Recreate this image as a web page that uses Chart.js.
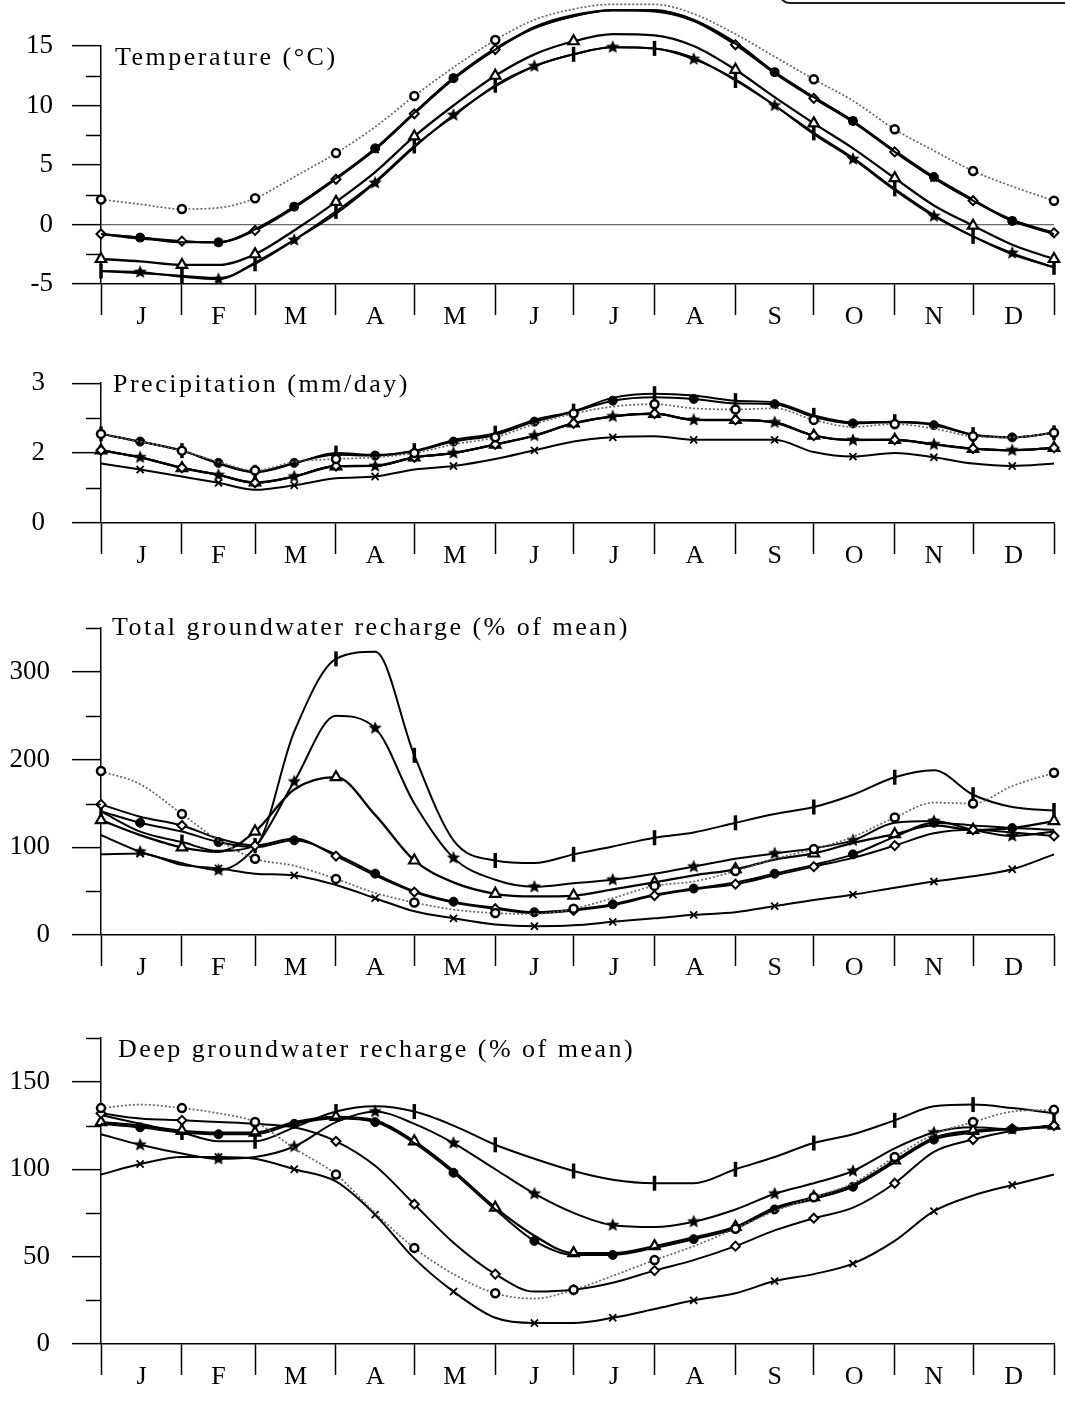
<!DOCTYPE html>
<html>
<head>
<meta charset="utf-8">
<script src="https://cdn.jsdelivr.net/npm/chart.js@4.4.0/dist/chart.umd.min.js"></script>
<style>
  body { margin: 0; background: #fff; width: 1065px; height: 1402px; position: relative; overflow: hidden; }
  .panel { position: absolute; left: 0; width: 1065px; }
  .legend-edge { position: absolute; left: 778px; top: -40px; width: 300px; height: 40px; border: 2px solid #222; border-radius: 12px; }
</style>
</head>
<body>
<div class="legend-edge"></div>
<div class="panel" style="top:0;height:340px"><canvas id="temp"></canvas></div>
<div class="panel" style="top:340px;height:239px"><canvas id="precip"></canvas></div>
<div class="panel" style="top:590px;height:401px"><canvas id="total"></canvas></div>
<div class="panel" style="top:1000px;height:400px"><canvas id="deep"></canvas></div>
<script>
// x positions: day of year, about every half month
const days = [0,15,31,45,59,74,90,105,120,135,151,166,181,196,212,227,243,258,273,288,304,319,334,349,365];
const monthStarts = [0,31,59,90,120,151,181,212,243,273,304,334,365];
const monthLabels = ['J','F','M','A','M','J','J','A','S','O','N','D'];

// Temperature (°C)
const tempCircle   = [2.1,1.7,1.3,1.4,2.2,4.0,6.0,8.2,10.8,13.2,15.5,17.2,18.1,18.5,18.5,17.7,16.0,14.1,12.2,10.4,8.0,6.2,4.5,3.2,2.0];
const tempCross    = [-0.8,-1.1,-1.5,-1.5,-0.4,1.5,3.9,6.3,9.4,12.3,14.7,16.5,17.5,18.0,18.0,17.2,15.2,12.8,10.7,8.7,6.1,3.9,2.0,0.3,-0.8];
const tempDiamond  = [-0.8,-1.2,-1.4,-1.5,-0.5,1.4,3.8,6.3,9.3,12.2,14.7,16.6,17.6,18.0,17.9,17.1,15.1,12.7,10.6,8.6,6.1,3.9,2.0,0.4,-0.7];
const tempDot      = [-0.8,-1.1,-1.4,-1.5,-0.4,1.5,3.9,6.4,9.4,12.3,14.8,16.5,17.5,18.0,18.0,17.2,15.3,12.8,10.7,8.7,6.2,4.0,2.1,0.3,-0.7];
const tempTriangle = [-2.9,-3.1,-3.4,-3.4,-2.5,-0.5,1.9,4.4,7.4,10.0,12.5,14.3,15.4,16.0,15.9,15.0,13.0,10.7,8.5,6.4,3.9,1.6,-0.1,-1.7,-2.9];
const tempStar     = [-3.9,-4.0,-4.4,-4.6,-3.2,-1.3,0.9,3.5,6.5,9.2,11.6,13.3,14.3,14.9,14.8,13.9,12.2,10.0,7.6,5.5,2.9,0.7,-1.0,-2.4,-3.6];
const tempBar      = [-3.9,-4.1,-4.3,-4.5,-3.3,-1.3,1.1,3.6,6.6,9.1,11.7,13.3,14.3,14.9,14.8,14.0,12.1,10.0,7.7,5.6,3.0,0.8,-1.0,-2.5,-3.6];
const tempTicks = [-5,0,5,10,15];
const tempTickLabels = ['-5','0','5','10','15'];
const tempMinor = [-2.5,2.5,7.5,12.5];

// Precipitation (mm/day), in units of the evenly spaced axis ticks
const precipCircle   = [2.55,2.33,2.07,1.75,1.5,1.75,1.83,1.88,2.0,2.25,2.45,2.83,3.13,3.33,3.4,3.28,3.25,3.28,2.95,2.75,2.83,2.7,2.48,2.45,2.58];
const precipCross    = [1.7,1.53,1.33,1.15,0.95,1.08,1.28,1.33,1.53,1.63,1.83,2.08,2.33,2.45,2.48,2.38,2.38,2.38,2.03,1.9,2.0,1.88,1.7,1.63,1.7];
const precipDiamond  = [2.08,1.88,1.58,1.38,1.15,1.33,1.63,1.63,1.88,2.0,2.25,2.5,2.85,3.05,3.13,2.95,2.95,2.88,2.5,2.38,2.38,2.25,2.13,2.08,2.15];
const precipDot      = [2.55,2.33,2.07,1.72,1.47,1.72,1.95,1.93,2.05,2.33,2.52,2.9,3.18,3.5,3.6,3.55,3.42,3.4,3.03,2.85,2.88,2.8,2.52,2.45,2.58];
const precipTriangle = [2.08,1.88,1.57,1.38,1.16,1.33,1.62,1.64,1.88,2.0,2.24,2.5,2.85,3.05,3.12,2.96,2.95,2.87,2.5,2.38,2.38,2.25,2.12,2.08,2.15];
const precipStar     = [2.08,1.88,1.58,1.37,1.15,1.33,1.63,1.63,1.88,2.0,2.25,2.5,2.86,3.05,3.13,2.95,2.94,2.88,2.5,2.37,2.38,2.25,2.13,2.08,2.15];
const precipBar      = [2.55,2.33,2.07,1.7,1.45,1.7,2.0,1.95,2.07,2.37,2.57,2.95,3.2,3.58,3.7,3.65,3.5,3.45,3.08,2.88,2.9,2.83,2.53,2.45,2.58];
const precipTicks = [0,2,4];
const precipTickLabels = ['0','2','3'];
const precipMinor = [1,3];

// Total groundwater recharge (% of mean)
const totalCircle   = [187,172,138,108,87,79,64,48,37,29,25,24,30,42,56,61,73,87,98,112,134,151,150,170,185];
const totalCross    = [92,93,80,76,70,68,57,42,27,19,12,10,11,15,19,23,26,33,40,46,54,61,67,75,92];
const totalDiamond  = [149,135,125,110,102,110,90,68,49,37,30,25,28,34,45,52,58,68,78,88,102,116,120,117,113];
const totalDot      = [141,128,118,106,100,108,92,70,50,38,31,26,29,35,46,53,60,70,80,92,112,128,125,122,120];
const totalTriangle = [131,114,100,95,118,166,180,137,85,60,47,44,45,52,60,68,75,86,93,105,115,125,120,122,130];
const totalStar     = [114,95,82,74,100,175,250,236,150,88,63,55,59,63,70,78,87,93,99,108,128,130,120,113,118];
const totalBar      = [141,118,106,96,102,232,315,323,205,108,85,82,92,101,111,117,128,138,146,160,180,188,160,146,142];
const totalTicks = [0,100,200,300];
const totalTickLabels = ['0','100','200','300'];
const totalMinor = [50,150,250,350];

// Deep groundwater recharge (% of mean)
const deepCircle   = [135,137,135,132,127,112,97,75,55,40,29,26,31,39,48,56,66,76,84,92,107,120,127,133,134];
const deepCross    = [97,103,107,107,106,100,93,74,49,30,15,12,12,15,20,25,29,36,40,46,59,76,85,91,97];
const deepDiamond  = [132,129,128,127,126,124,116,102,80,58,40,30,31,35,42,48,56,65,72,78,92,110,117,122,125];
const deepDot      = [126,124,121,120,120,126,129,127,115,98,77,59,51,51,55,60,66,77,83,90,104,117,121,123,124];
const deepTriangle = [127,125,122,121,121,127,130,128,116,99,78,62,52,52,56,61,67,78,84,91,105,118,122,123,125];
const deepStar     = [120,114,109,106,107,113,127,133,126,115,100,86,75,68,67,70,77,86,92,99,112,121,124,123,125];
const deepBar      = [131,126,121,116,116,124,133,136,133,125,114,106,99,94,92,92,100,107,115,120,128,136,137,135,132];
const deepTicks = [0,50,100,150];
const deepTickLabels = ['0','50','100','150'];
const deepMinor = [25,75,125,175];

const FONT = '"Liberation Serif", "Times New Roman", serif';
Chart.defaults.font.family = FONT;
Chart.defaults.color = '#000';

// filled star marker
function makeStar(r) {
  const c = document.createElement('canvas');
  c.width = c.height = r * 2 + 2;
  const g = c.getContext('2d');
  g.beginPath();
  for (let i = 0; i < 10; i++) {
    const a = -Math.PI / 2 + i * Math.PI / 5;
    const rr = i % 2 ? r * 0.45 : r;
    g.lineTo(r + 1 + rr * Math.cos(a), r + 1 + rr * Math.sin(a));
  }
  g.closePath();
  g.fillStyle = '#000';
  g.fill();
  return c;
}
const starImg = makeStar(7);

// marker / line look for the 7 series: o, x, diamond, dot, triangle, star, bar
const looks = [
  { line: '#666', dash: [2, 2], width: 1.7, style: 'circle', r: 4, fill: '#fff', pb: 2.5, off: 0 },
  { line: '#000', width: 2, style: 'crossRot', r: 5, fill: '#000', pb: 1.8, off: 1 },
  { line: '#000', width: 2, style: 'rectRot', r: 4.5, fill: '#fff', pb: 2, off: 0 },
  { line: '#000', width: 2, style: 'circle', r: 4.5, fill: '#000', pb: 1, off: 1 },
  { line: '#000', width: 2.3, style: 'triangle', r: 6, fill: '#fff', pb: 2.2, off: 0 },
  { line: '#000', width: 2, style: starImg, r: 6, fill: '#000', pb: 1, off: 1 },
  { line: '#000', width: 2, style: 'line', rot: 90, r: 7.5, fill: '#000', pb: 3.5, off: 0 }
];

const panelDecor = {
  id: 'panelDecor',
  afterDraw(chart, args, o) {
    const { ctx } = chart;
    const y = chart.scales.y;
    ctx.save();
    ctx.strokeStyle = '#000';
    ctx.lineWidth = 1.5;
    o.minor.forEach(v => {
      const py = Math.round(y.getPixelForValue(v)) + 0.5;
      ctx.beginPath();
      ctx.moveTo(y.right - 15, py);
      ctx.lineTo(y.right, py);
      ctx.stroke();
    });
    ctx.font = '26px ' + FONT;
    if ('letterSpacing' in ctx) ctx.letterSpacing = '2.5px';
    ctx.fillStyle = '#000';
    ctx.textBaseline = 'alphabetic';
    ctx.textAlign = 'left';
    ctx.fillText(o.text, o.x, o.y);
    ctx.restore();
  }
};

function makePanel(id, series, p) {
  const datasets = series.map((vals, k) => {
    const s = looks[k];
    return {
      data: vals.map((v, i) => ({ x: days[i], y: v })),
      borderColor: s.line,
      borderWidth: s.width,
      borderDash: s.dash || [],
      cubicInterpolationMode: 'monotone',
      pointStyle: s.style,
      pointRotation: s.rot || 0,
      pointRadius: c => ((c.dataIndex + s.off) % 2 === 0 ? s.r : 0),
      pointBackgroundColor: s.fill,
      pointBorderColor: '#000',
      pointBorderWidth: s.pb,
      clip: false
    };
  });

  new Chart(document.getElementById(id), {
    type: 'line',
    data: { datasets },
    options: {
      responsive: true,
      maintainAspectRatio: false,
      animation: false,
      layout: { padding: { top: p.padTop, right: 3, left: 0, bottom: 0 } },
      plugins: {
        legend: { display: false },
        tooltip: { enabled: false },
        panelDecor: { text: p.title, x: p.titleX, y: p.titleY, minor: p.minor }
      },
      scales: {
        x: {
          type: 'linear',
          min: 0,
          max: 365,
          afterBuildTicks: s => {
            const mids = monthLabels.map((m, i) => (monthStarts[i] + monthStarts[i + 1]) / 2);
            s.ticks = monthStarts.concat(mids).sort((a, b) => a - b).map(v => ({ value: v }));
          },
          afterFit: s => { s.height = 56; },
          grid: {
            drawOnChartArea: false,
            tickLength: 31,
            tickWidth: 1.5,
            tickColor: c => (c.tick && monthStarts.includes(c.tick.value) ? '#000' : 'rgba(0,0,0,0)')
          },
          border: { color: '#000', width: 1.5 },
          ticks: {
            autoSkip: false,
            maxRotation: 0,
            padding: -13,
            color: '#000',
            font: { size: 26, family: FONT },
            callback: v => {
              const i = monthLabels.findIndex((m, k) => (monthStarts[k] + monthStarts[k + 1]) / 2 === v);
              return i >= 0 ? monthLabels[i] : '';
            }
          }
        },
        y: {
          min: p.min,
          max: p.max,
          afterBuildTicks: s => { s.ticks = p.ticks.map(v => ({ value: v })); },
          afterFit: s => { s.width = 101; },
          grid: {
            drawOnChartArea: !!p.zeroLine,
            color: c => (p.zeroLine && c.tick && c.tick.value === 0 ? '#666' : 'rgba(0,0,0,0)'),
            lineWidth: 1.3,
            tickColor: '#000',
            tickLength: 29,
            tickWidth: 1.5
          },
          border: { color: '#000', width: 1.5 },
          ticks: {
            padding: p.labelPad,
            color: '#000',
            font: { size: 27, family: FONT },
            callback: v => {
              const i = p.ticks.indexOf(v);
              return i >= 0 ? p.labels[i] : '';
            }
          }
        }
      }
    },
    plugins: [panelDecor]
  });
}

makePanel('temp',
  [tempCircle, tempCross, tempDiamond, tempDot, tempTriangle, tempStar, tempBar],
  { min: -5, max: 15, ticks: tempTicks, labels: tempTickLabels, minor: tempMinor, zeroLine: true,
    padTop: 46, labelPad: 19, title: 'Temperature (°C)', titleX: 115, titleY: 65 });

makePanel('precip',
  [precipCircle, precipCross, precipDiamond, precipDot, precipTriangle, precipStar, precipBar],
  { min: 0, max: 4, ticks: precipTicks, labels: precipTickLabels, minor: precipMinor,
    padTop: 24, labelPad: 27, title: 'Precipitation (mm/day)', titleX: 113, titleY: 52 });

makePanel('total',
  [totalCircle, totalCross, totalDiamond, totalDot, totalTriangle, totalStar, totalBar],
  { min: 0, max: 350, ticks: totalTicks, labels: totalTickLabels, minor: totalMinor,
    padTop: 27, labelPad: 22, title: 'Total groundwater recharge (% of mean)', titleX: 112, titleY: 45 });

makePanel('deep',
  [deepCircle, deepCross, deepDiamond, deepDot, deepTriangle, deepStar, deepBar],
  { min: 0, max: 175, ticks: deepTicks, labels: deepTickLabels, minor: deepMinor,
    padTop: 32, labelPad: 22, title: 'Deep groundwater recharge (% of mean)', titleX: 118, titleY: 57 });
</script>
</body>
</html>
